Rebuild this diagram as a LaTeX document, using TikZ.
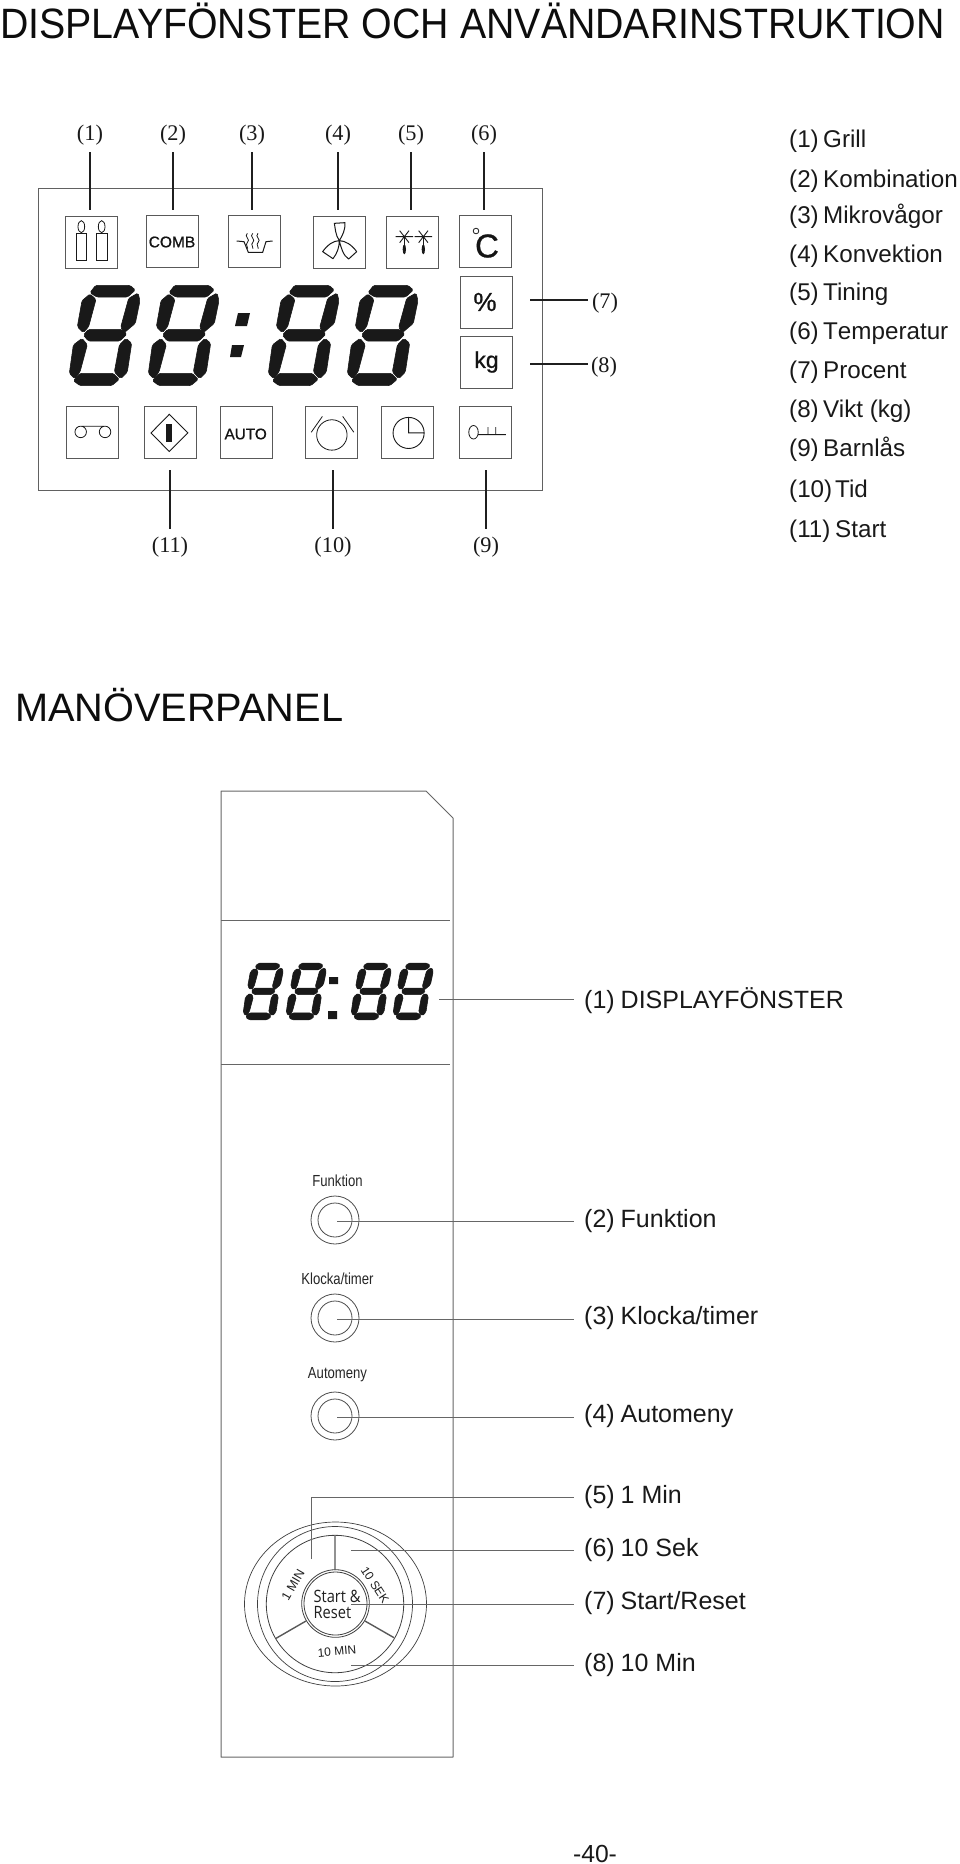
\documentclass[tikz,border=0pt]{standalone}
\usepackage{fontspec}
\setmainfont{Liberation Sans}
\newfontfamily\serifnum{Liberation Serif}
\newfontfamily\opensans{Open Sans}
\newfontfamily\heavysans[FakeBold=0.8]{Liberation Sans}
\newcommand{\fsz}[1]{\fontsize{#1}{#1}\selectfont}
\tikzset{
  iconbox/.style={draw=black!65,line width=0.9pt,fill=white,inner sep=0pt,minimum width=52pt,minimum height=52pt},
  leader/.style={draw=black!88,line width=1.1pt},
  thinleader/.style={draw=black!60,line width=0.8pt},
  glyph/.style={draw=black!90,line width=0.8pt},
  paneledge/.style={draw=black!60,line width=1pt},
  numlabel/.style={font=\serifnum\fsz{22.3},inner sep=0pt,text=black!90},
  listnum/.style={font=\fsz{24.2},inner sep=0pt,anchor=base west,text=black!90},
  panellist/.style={font=\fsz{25},inner sep=0pt,anchor=base west,text=black!90},
  ctrlabel/.style={font=\fsz{16},inner sep=0pt,xscale=0.82,text=black!85},
  dialtext/.style={inner sep=0pt,text=black!88},
  icontext/.style={inner sep=0pt,text=black!92},
  heading/.style={inner sep=0pt,anchor=base west,text=black!95},
  seg/.style={fill=black!90,draw=black!90,line width=0.6pt},
}
% seven-segment digit; #1,#2 top-left, #3 scale
\newcommand{\segdigit}[3]{%
\begin{scope}[shift={(#1,#2)},scale=#3/3,shift={(-117,-525)}]
\path[seg,rounded corners=1.5pt] (180,548)--(197,526)--(300,526)--(316,540)--(293,561)--(200,561)--cycle;
\path[seg,rounded corners=1.5pt] (324,549)--(330,572)--(316,640)--(283,668)--(272,652)--(296,565)--cycle;
\path[seg,rounded corners=1.5pt] (180,552)--(198,568)--(176,650)--(160,668)--(142,650)--(156,572)--cycle;
\path[seg,rounded corners=1.5pt] (160,675)--(176,658)--(274,658)--(291,672)--(270,693)--(175,693)--cycle;
\path[seg,rounded corners=1.5pt] (156,685)--(172,704)--(150,786)--(134,806)--(118,790)--(130,705)--cycle;
\path[seg,rounded corners=1.5pt] (288,685)--(305,700)--(292,786)--(272,806)--(253,786)--(268,705)--cycle;
\path[seg,rounded corners=1.5pt] (130,812)--(150,790)--(250,790)--(268,808)--(245,827)--(150,827)--cycle;
\end{scope}}
\begin{document}
\begin{tikzpicture}[x=1pt,y=-1pt]
\useasboundingbox[fill=white] (0,0) rectangle (960,1864);
% headings
\node[heading,font=\fsz{39.3},yscale=1.08] (title) at (0,38) {DISPLAYFÖNSTER OCH ANVÄNDARINSTRUKTION};
\node[heading,font=\fsz{39.7}] (manov) at (15,721) {MANÖVERPANEL};
\node[inner sep=0pt,anchor=base,font=\fsz{24.7},text=black!90] (page) at (595,1862) {-40-};
% outer display
\draw[draw=black!62,line width=1pt] (38,188) rectangle (542,490);
% top leaders
\foreach \n/\x in {1/90,2/173,3/252,4/338,5/411,6/484}{
  \coordinate (ta\n) at (\x,152); \coordinate (tb\n) at (\x,210);
  \draw[leader] (ta\n)--(tb\n);
}
\foreach \n/\x in {1/90,2/173,3/252,4/338,5/411,6/484}{
  \node[numlabel] (tl\n) at (\x,135) {(\n)};
}
\coordinate (c7a) at (530,300); \coordinate (c7b) at (588,300);
\coordinate (c8a) at (530,364); \coordinate (c8b) at (588,364);
\draw[leader] (c7a)--(c7b); \draw[leader] (c8a)--(c8b);
\node[numlabel] (tl7) at (605,303.5) {(7)};
\node[numlabel] (tl8) at (604,367.5) {(8)};
\foreach \n/\x in {11/170,10/333,9/486}{
  \coordinate (ba\n) at (\x,470); \coordinate (bb\n) at (\x,528.5);
  \draw[leader] (ba\n)--(bb\n);
  \node[numlabel] (bl\n) at (\x,547.5) {(\n)};
}
% top icon boxes
\node[iconbox] (i1) at (91,242) {};
\node[iconbox] (i2) at (172,241.5) {};
\node[iconbox] (i3) at (254,241.5) {};
\node[iconbox] (i4) at (339,242) {};
\node[iconbox] (i5) at (412.5,242) {};
\node[iconbox] (i6) at (485,241.5) {};
\node[iconbox] (i7) at (486,302.5) {};
\node[iconbox] (i8) at (486,362) {};
\node[icontext,font=\heavysans\fsz{15.5}] (combt) at (172,242) {COMB};
\node[icontext,font=\heavysans\fsz{33}] (degc) at (487,246) {C};
\draw[glyph] (476,231) circle (2.8);
\node[icontext,font=\heavysans\fsz{26}] (pct) at (485,302) {\%};
\node[icontext,font=\heavysans\fsz{23}] (kgt) at (486.5,362) {kg};
% candles
\begin{scope}[shift={(30,110)},scale=1/3]
\draw[glyph,line width=0.9pt] (139,370) rectangle (169,450) (199,370) rectangle (231,450);
\draw[glyph] (154,350) ellipse (10 and 18) (215,350) ellipse (10 and 18);
% microwave dish
\draw[glyph,line width=1pt] (620,393)--(642,395)--(655,427)--(698,427)--(708,395)--(728,393);
\foreach \x in {652,668,684}{
\draw[glyph] (\x,370) .. controls (\x-12,380) and (\x+12,388) .. (\x,398) .. controls (\x-7,404) and (\x+3,410) .. (\x+1,416);}
\end{scope}
\begin{scope}[shift={(300,110)},scale=1/3]
% fan
\draw[glyph,line width=1pt,line join=round]
 (118,392) .. controls (106,375) and (106,355) .. (103,340) -- (135,338) .. controls (136,360) and (128,375) .. (118,392)
 .. controls (100,392) and (82,405) .. (68,425) -- (99,446) .. controls (112,430) and (118,410) .. (118,392)
 .. controls (136,392) and (156,405) .. (170,425) -- (146,447) .. controls (130,438) and (122,410) .. (118,392);
% frost
\foreach \x in {313,370}{
 \draw[glyph,line width=0.9pt] (\x-26,380)--(\x+26,380) (\x-14,362)--(\x+14,398) (\x-14,398)--(\x+14,362);
 \fill[black!90] (\x,418) ellipse (5 and 15);
 \draw[glyph] (\x,380)--(\x,412);
}
\end{scope}
% bottom icon boxes
\node[iconbox] (j1) at (92,432.4) {};
\node[iconbox] (j2) at (170.3,432.4) {};
\node[iconbox] (j3) at (246,432.4) {};
\node[iconbox] (j4) at (331,432.4) {};
\node[iconbox] (j5) at (407.6,432.4) {};
\node[iconbox] (j6) at (485.3,432.4) {};
\node[icontext,font=\heavysans\fsz{15.3}] (autot) at (245.7,434) {AUTO};
\begin{scope}[shift={(30,390)},scale=1/2.958]
\draw[glyph] (150,124) circle (17) (222,124) circle (17) (150,107)--(222,107);
\draw[glyph,line width=0.9pt] (412,72)--(467,127)--(412,182)--(358,127)--cycle;
\fill[black!90] (403,100) rectangle (420,153);
\draw[glyph] (893,133) circle (45) (865,78)--(832,125) (925,78)--(958,125);
\draw[glyph,line width=0.9pt] (1120,127) circle (46) (1120,81)--(1120,127)--(1166,127);
\draw[glyph] (1312,125) ellipse (14 and 20) (1326,132)--(1408,132) (1355,110)--(1355,132) (1378,110)--(1378,132);
\end{scope}
% digits
\segdigit{69}{285}{1}\segdigit{148}{285}{1}\segdigit{268}{285}{1}\segdigit{347}{285}{1}
\fill[black!90] (238,313)--(250,313)--(247,326)--(235,326)--cycle (232,345)--(244,345)--(241,357)--(230,357)--cycle;
% right list
\foreach \n/\t/\y in {1/Grill/147,2/Kombination/187,3/Mikrovågor/223,4/Konvektion/262,5/Tining/300,6/{\addfontfeature{Kerning=Off}Temperatur}/339,7/Procent/378,8/Vikt (kg)/417,9/Barnlås/456}{
  \node[listnum] (rn\n) at (789,\y) {(\n)};
  \node[listnum] (rt\n) at (823,\y) {\t};
}
\foreach \n/\t/\y in {10/Tid/497,11/Start/537}{
  \node[listnum] (rn\n) at (789,\y) {(\n)};
  \node[listnum] (rt\n) at (835,\y) {\t};
}
% control panel
\draw[paneledge,line join=round] (221,791)--(426,791)--(453,818)--(453,1757)--(221,1757)--cycle;
\coordinate (sa) at (221,920); \coordinate (sb) at (450,920);
\coordinate (sc) at (221,1064); \coordinate (sd) at (450,1064);
\draw[paneledge,line width=0.9pt] (sa)--(sb) (sc)--(sd);
\segdigit{243}{963}{0.565}\segdigit{286}{963}{0.565}\segdigit{351}{963}{0.565}\segdigit{393}{963}{0.565}
\fill[black!90] (329,977) rectangle (338,984) (328,1011) rectangle (337,1019);
% buttons
\foreach \n/\t/\yc/\yl in {f/Funktion/1220/1181,k/Klocka\slash timer/1318/1279,a/Automeny/1416/1375}{
  \node[ctrlabel] (bt\n) at (337.5,\yl) {\t};
  \draw[glyph,line width=0.8pt,draw=black!70] (335,\yc) circle (24) circle (17);
  \coordinate (bc\n) at (337,\yc+1);
}
% dial
\draw[glyph,line width=0.7pt,draw=black!75] (335.5,1604) ellipse (91 and 82);
\draw[glyph,line width=0.7pt,draw=black!75] (335,1604) circle (77.5);
\draw[glyph,line width=0.8pt,draw=black!75] (335,1604) circle (68.7);
\draw[glyph,line width=0.8pt,draw=black!75] (335.5,1603.5) circle (33.8) circle (31.5);
\begin{scope}[shift={(220,1490)},scale=1/3]
\draw[draw=black!65,line width=1.4pt] (345,135)--(345,240) (168,445)--(258,393) (522,443)--(435,393);
\end{scope}
\node[dialtext,anchor=base west,font=\opensans\fsz{17},xscale=0.86] (st1) at (313.5,1602) {Start \&};
\node[dialtext,anchor=base west,font=\opensans\fsz{17},xscale=0.86] (st2) at (313.5,1618) {Reset};
\node[dialtext,rotate=60,font=\fsz{12.5}] (m1) at (293,1585) {1 MIN};
\node[dialtext,rotate=-57,font=\fsz{12}] (m2) at (375,1585) {10 SEK};
\node[dialtext,rotate=5,font=\fsz{12}] (m3) at (337,1651.5) {10 MIN};
% panel leaders
\coordinate (p1a) at (439,999); \coordinate (p1b) at (574,999);
\draw[thinleader] (p1a)--(p1b);
\coordinate (p2b) at (574,1221); \coordinate (p3b) at (574,1319); \coordinate (p4b) at (574,1417);
\draw[thinleader] (bcf)--(p2b); \draw[thinleader] (bck)--(p3b); \draw[thinleader] (bca)--(p4b);
\coordinate (p5a) at (311,1559); \coordinate (p5m) at (311,1497); \coordinate (p5b) at (574,1497);
\coordinate (p6a) at (351,1550); \coordinate (p6b) at (574,1550);
\coordinate (p7a) at (351,1604); \coordinate (p7b) at (574,1604);
\coordinate (p8a) at (351,1665); \coordinate (p8b) at (574,1665);
\draw[thinleader] (p5a)--(p5m)--(p5b);
\draw[thinleader] (p6a)--(p6b); \draw[thinleader] (p7a)--(p7b); \draw[thinleader] (p8a)--(p8b);
% panel list
\foreach \n/\t/\y in {1/DISPLAYFÖNSTER/1008,2/Funktion/1227,3/Klocka\slash timer/1324,4/Automeny/1422,5/1 Min/1503,6/10 Sek/1556,7/Start\slash Reset/1609,8/10 Min/1671}{
  \node[panellist] (pn\n) at (584,\y) {(\n)};
  \node[panellist] (pt\n) at (620.5,\y) {\t};
}
\end{tikzpicture}
\end{document}
